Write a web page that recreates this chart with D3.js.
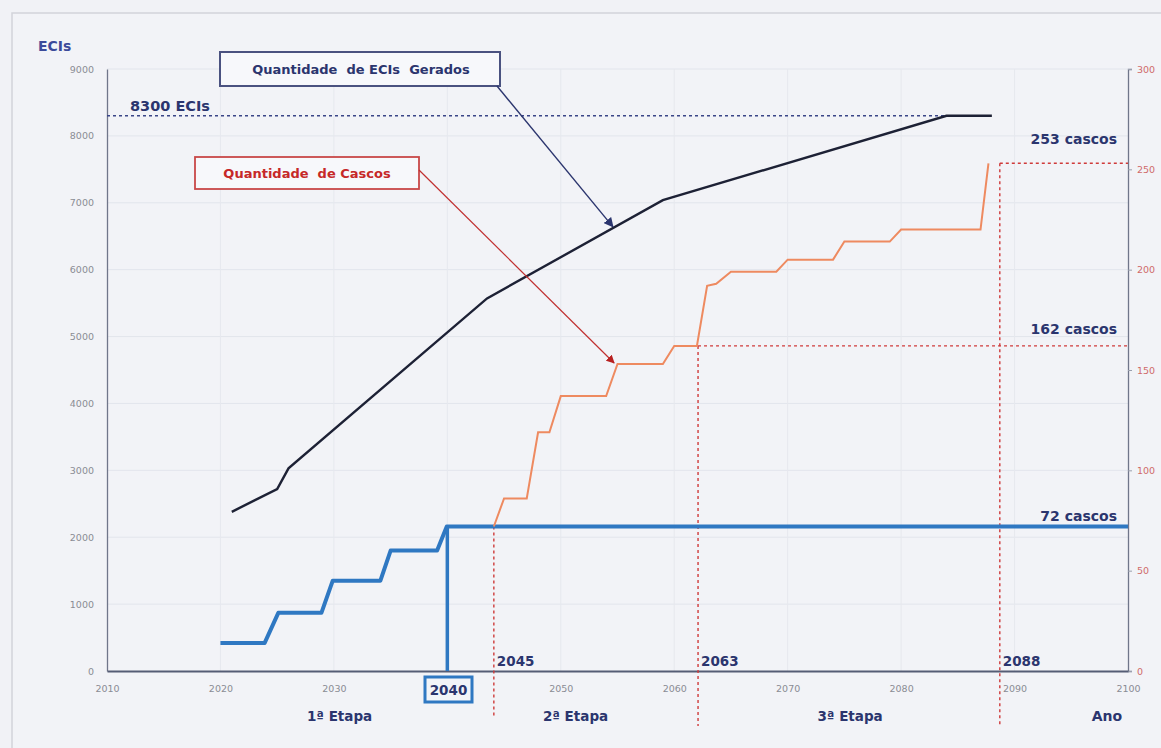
<!DOCTYPE html>
<html>
<head>
<meta charset="utf-8">
<script src="https://cdn.jsdelivr.net/npm/d3@7"></script>
<style>
  body { margin: 0; background: #f1f2f6; }
  svg { display: block; }
  text { font-family: "DejaVu Sans", Verdana, sans-serif; white-space: pre; }
</style>
</head>
<body>
<div id="chart"></div>
<script>
// ECIs gerados (eixo esquerdo)
var eciYears  = [2021, 2025, 2026, 2043.5, 2059, 2084, 2088];
var eciValues = [2380, 2720, 3030, 5570, 7040, 8300, 8300];

// cascos da 1a etapa (linha azul, eixo direito)
var etapa1Years  = [2020, 2023.9, 2025.1, 2028.9, 2029.9, 2034.1, 2035, 2039.1, 2039.95, 2100];
var etapa1Cascos = [14, 14, 29, 29, 45, 45, 60, 60, 72, 72];

// quantidade de cascos (linha laranja, eixo direito)
var cascoYears  = [2044.1, 2045, 2047, 2048, 2049, 2050, 2054, 2055, 2059, 2060, 2062,
                   2062.9, 2063.7, 2065, 2069, 2070, 2074, 2075, 2079, 2080, 2087, 2087.7];
var cascoValues = [72, 86, 86, 119, 119, 137, 137, 153, 153, 162, 162,
                   192, 193, 199, 199, 205, 205, 214, 214, 220, 220, 253];

var xTicks = [2010, 2020, 2030, 2040, 2050, 2060, 2070, 2080, 2090, 2100];
var leftTicks = [0, 1000, 2000, 3000, 4000, 5000, 6000, 7000, 8000, 9000];
var rightTicks = [0, 50, 100, 150, 200, 250, 300];

var marcoLabels = ["2045", "2063", "2088"];
var marcoYears  = [2044.1, 2062.1, 2088.7];
var marcoTops   = [72, 162, 253];

var etapaLabels = ["1ª Etapa", "2ª Etapa", "3ª Etapa"];
var etapaCenters = [2030.5, 2051.3, 2075.5];

var width = 1161, height = 748;
var margin = {top: 69, right: 33, bottom: 77, left: 107};

var svg = d3.select("#chart").append("svg")
  .attr("width", width).attr("height", height);

var x = d3.scaleLinear().domain([2010, 2100]).range([margin.left, width - margin.right]);
var yL = d3.scaleLinear().domain([0, 9000]).range([height - margin.bottom, margin.top]);
var yR = d3.scaleLinear().domain([0, 300]).range([height - margin.bottom, margin.top]);

var navy = "#2b356e";
var red = "#cf3a3a";
var blue = "#2f78c2";

// frame
svg.append("rect").attr("x", 12).attr("y", 13).attr("width", width).attr("height", height)
  .attr("fill", "#f2f3f7").attr("stroke", "#d2d4da").attr("stroke-width", 1.5);

var defs = svg.append("defs");
function marker(id, color) {
  defs.append("marker").attr("id", id)
    .attr("viewBox", "0 0 10 10").attr("refX", 9).attr("refY", 5)
    .attr("markerWidth", 7).attr("markerHeight", 7).attr("orient", "auto")
    .append("path").attr("d", "M0,0 L10,5 L0,10 z").attr("fill", color);
}
marker("arrNavy", navy);
marker("arrRed", "#b82020");

// faint grid
svg.append("g").selectAll("line").data(leftTicks.slice(1)).join("line")
  .attr("x1", x(2010)).attr("x2", x(2100))
  .attr("y1", function(d) { return yL(d); }).attr("y2", function(d) { return yL(d); })
  .attr("stroke", "#e2e5ec").attr("stroke-width", 1);
svg.append("g").selectAll("line").data(xTicks.slice(1, -1)).join("line")
  .attr("x1", function(d) { return x(d); }).attr("x2", function(d) { return x(d); })
  .attr("y1", yL(9000)).attr("y2", yL(0))
  .attr("stroke", "#e6e8ee").attr("stroke-width", 1);

// axes
var leftAxis = svg.append("g").attr("transform", "translate(" + x(2010) + ",0)")
  .call(d3.axisLeft(yL).tickValues(leftTicks).tickFormat(d3.format("d")).tickSize(0).tickPadding(13));
var rightAxis = svg.append("g").attr("transform", "translate(" + x(2100) + ",0)")
  .call(d3.axisRight(yR).tickValues(rightTicks).tickSize(4).tickPadding(5));
var bottomAxis = svg.append("g").attr("transform", "translate(0," + yL(0) + ")")
  .call(d3.axisBottom(x).tickValues(xTicks)
    .tickFormat(function(d) { return d == 2040 ? "" : d3.format("d")(d); })
    .tickSize(0).tickPadding(14));

leftAxis.select(".domain").attr("stroke", "#70768a").attr("stroke-width", 1.3);
rightAxis.select(".domain").attr("stroke", "#70768a").attr("stroke-width", 1.3);
rightAxis.selectAll(".tick line").attr("stroke", "#9aa0ae");
bottomAxis.select(".domain").attr("stroke", "#555d75").attr("stroke-width", 2.2);
leftAxis.selectAll("text").attr("fill", "#8a8c94").attr("font-size", 9.5)
  .attr("font-family", "'Liberation Serif', serif");
rightAxis.selectAll("text").attr("fill", "#d06a6a").attr("font-size", 9.5)
  .attr("font-family", "'Liberation Serif', serif");
bottomAxis.selectAll("text").attr("fill", "#8a8c94").attr("font-size", 9.5)
  .attr("font-family", "'Liberation Serif', serif");

// 8300 line
svg.append("line")
  .attr("x1", x(2010)).attr("x2", x(eciYears[5]))
  .attr("y1", yL(8300)).attr("y2", yL(8300))
  .attr("stroke", "#3a4688").attr("stroke-width", 1.4).attr("stroke-dasharray", "3,3");

// red dashed markers
marcoYears.forEach(function(yr, i) {
  svg.append("line")
    .attr("x1", x(yr)).attr("x2", x(yr))
    .attr("y1", yR(marcoTops[i])).attr("y2", i == 0 ? 716 : 726)
    .attr("stroke", red).attr("stroke-width", 1.4).attr("stroke-dasharray", "3,3");
  if (i > 0) {
    svg.append("line")
      .attr("x1", x(yr)).attr("x2", x(2100))
      .attr("y1", yR(marcoTops[i])).attr("y2", yR(marcoTops[i]))
      .attr("stroke", red).attr("stroke-width", 1.4).attr("stroke-dasharray", "3,3");
  }
  svg.append("text")
    .attr("x", x(yr) + 3).attr("y", yL(0) - 5)
    .attr("font-size", 13.5).attr("font-weight", "bold").attr("fill", navy)
    .text(marcoLabels[i]);
});

// lines
var eciLine = d3.line().x(function(d) { return x(d[0]); }).y(function(d) { return yL(d[1]); });
var casLine = d3.line().x(function(d) { return x(d[0]); }).y(function(d) { return yR(d[1]); });

svg.append("path").datum(d3.zip(etapa1Years, etapa1Cascos))
  .attr("d", casLine).attr("fill", "none").attr("stroke", blue).attr("stroke-width", 4)
  .attr("stroke-linejoin", "round");
svg.append("line")
  .attr("x1", x(2040)).attr("x2", x(2040)).attr("y1", yR(72)).attr("y2", yR(0))
  .attr("stroke", blue).attr("stroke-width", 3.5);

svg.append("path").datum(d3.zip(cascoYears, cascoValues))
  .attr("d", casLine).attr("fill", "none").attr("stroke", "#ee8a60").attr("stroke-width", 2);

svg.append("path").datum(d3.zip(eciYears, eciValues))
  .attr("d", eciLine).attr("fill", "none").attr("stroke", "#1d2135").attr("stroke-width", 2.4);

// callout boxes
svg.append("rect").attr("x", 220).attr("y", 52).attr("width", 280).attr("height", 34)
  .attr("fill", "#f7f8fb").attr("stroke", "#4a5280").attr("stroke-width", 2);
svg.append("text").attr("x", 361).attr("y", 74).attr("text-anchor", "middle")
  .attr("font-size", 13).attr("font-weight", "bold").attr("fill", navy)
  .text("Quantidade  de ECIs  Gerados");
svg.append("line").attr("x1", 497).attr("y1", 86)
  .attr("x2", x(2054.6)).attr("y2", yL(6640))
  .attr("stroke", navy).attr("stroke-width", 1.4).attr("marker-end", "url(#arrNavy)");

svg.append("rect").attr("x", 195).attr("y", 157).attr("width", 224).attr("height", 32)
  .attr("fill", "#f7f8fb").attr("stroke", "#c84848").attr("stroke-width", 1.8);
svg.append("text").attr("x", 307).attr("y", 178).attr("text-anchor", "middle")
  .attr("font-size", 13).attr("font-weight", "bold").attr("fill", "#c62828")
  .text("Quantidade  de Cascos");
svg.append("line").attr("x1", 419).attr("y1", 170)
  .attr("x2", x(2054.7)).attr("y2", yR(153.5))
  .attr("stroke", "#c03030").attr("stroke-width", 1.2).attr("marker-end", "url(#arrRed)");

// labels
svg.append("text").attr("x", 38).attr("y", 51)
  .attr("font-size", 14).attr("font-weight", "bold").attr("fill", "#3b4a9a").text("ECIs");
svg.append("text").attr("x", 130).attr("y", 111)
  .attr("font-size", 14.5).attr("font-weight", "bold").attr("fill", navy).text("8300 ECIs");

var casLabels = ["253 cascos", "162 cascos", "72 cascos"];
var casLabelY = [253, 162, 72];
var casLabelOff = [19, 12, 6];
casLabels.forEach(function(t, i) {
  svg.append("text").attr("x", 1117).attr("y", yR(casLabelY[i]) - casLabelOff[i])
    .attr("text-anchor", "end").attr("font-size", 14).attr("font-weight", "bold")
    .attr("fill", navy).text(t);
});

// 2040 box
svg.append("rect").attr("x", 425).attr("y", 677).attr("width", 47).attr("height", 25)
  .attr("fill", "#f2f4f8").attr("stroke", blue).attr("stroke-width", 3);
svg.append("text").attr("x", 448.5).attr("y", 695).attr("text-anchor", "middle")
  .attr("font-size", 13.5).attr("font-weight", "bold").attr("fill", navy).text("2040");

etapaLabels.forEach(function(t, i) {
  svg.append("text").attr("x", x(etapaCenters[i])).attr("y", 721)
    .attr("text-anchor", "middle").attr("font-size", 13.5).attr("font-weight", "bold")
    .attr("fill", navy).text(t);
});
svg.append("text").attr("x", 1107).attr("y", 721).attr("text-anchor", "middle")
  .attr("font-size", 14).attr("font-weight", "bold").attr("fill", navy).text("Ano");
</script>
</body>
</html>
